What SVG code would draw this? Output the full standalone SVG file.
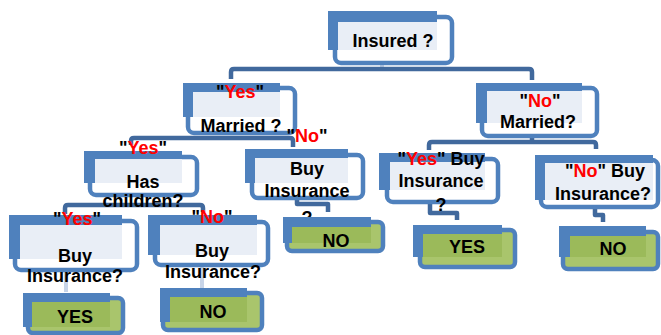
<svg xmlns="http://www.w3.org/2000/svg" width="661" height="335" viewBox="0 0 661 335">
<style>
.frame{fill:#FFFFFF;stroke:#4F81BD;stroke-width:4.5}
.back{fill:#4F81BD}
.inner{fill:#E9EEF6}
.lframe{fill:#A9C56C;stroke:#4F81BD;stroke-width:4.5}
.linner{fill:#9BBA5A}
.conn{fill:none;stroke:#41699D;stroke-width:4.5;stroke-linejoin:round;stroke-linecap:butt}
.stub{fill:none;stroke:#C7D4E8;stroke-width:4}
text{font-family:"Liberation Sans",Arial,sans-serif;font-weight:bold;font-size:18px;fill:#000;text-anchor:middle}
.r{fill:#FF0000}
</style>
<g id="connectors">
<path class="stub" d="M382,63 V68"/>
<path class="conn" d="M231,79 V72 Q231,69 234,69 H529 Q532,69 532,72 V80"/>
<path class="conn" d="M131,145 V141 Q131,138 134,138 H290 Q293,138 293,141 V147"/>
<path class="conn" d="M532,136 V142"/>
<path class="conn" d="M429,150 V145 Q429,142 432,142 H593 Q596,142 596,145 V149"/>
<path class="conn" d="M65,214 V208 Q65,205 68,205 H200 Q203,205 203,208 V212"/>
<path class="conn" d="M297,198 V204 H328 V212"/>
<path class="conn" d="M430,202 V213 H457 V220"/>
<path class="conn" d="M595,207 V215 H603 V222"/>
<path class="stub" d="M66,270 V292"/>
<path class="stub" d="M202,265 V289"/>
</g>
<g id="n-insured">
<rect class="frame" x="335" y="17" width="117" height="46" rx="6"/>
<rect class="back" x="328" y="11" width="109" height="39"/>
<rect class="inner" x="338" y="22" width="99" height="28"/>
<text x="393" y="47">Insured ?</text>
</g>
<g id="n-married-yes">
<rect class="frame" x="188" y="88" width="107" height="45" rx="6"/>
<rect class="back" x="183" y="83" width="97" height="34"/>
<rect class="inner" x="193" y="92" width="87" height="25"/>
<text x="240" y="98">"<tspan class="r">Yes</tspan>"</text>
<text x="241" y="132">Married ?</text>
</g>
<g id="n-married-no">
<rect class="frame" x="482" y="88" width="115" height="48" rx="6"/>
<rect class="back" x="476" y="83" width="106" height="40"/>
<rect class="inner" x="487" y="91" width="95" height="32"/>
<text x="540" y="107">"<tspan class="r">No</tspan>"</text>
<text x="538" y="128">Married?</text>
</g>
<g id="n-has-children">
<rect class="frame" x="90" y="157" width="107" height="38" rx="6"/>
<rect class="back" x="84" y="151" width="98" height="32"/>
<rect class="inner" x="95" y="159" width="87" height="24"/>
<text x="143" y="154">"<tspan class="r">Yes</tspan>"</text>
<text x="143" y="188">Has</text>
<text x="143" y="207">children?</text>
</g>
<g id="n-buy-1">
<rect class="frame" x="252" y="155" width="111" height="43" rx="6"/>
<rect class="back" x="245" y="149" width="103" height="34"/>
<rect class="inner" x="255" y="158" width="93" height="25"/>
<text x="307" y="175">Buy</text>
<text x="307" y="197">Insurance</text>
<text x="307" y="224">?</text>
<text x="307" y="142">"<tspan class="r">No</tspan>"</text>
</g>
<g id="n-no-1">
<rect class="lframe" x="287" y="222" width="96" height="29" rx="5"/>
<rect class="back" x="283" y="217" width="88" height="26"/>
<rect class="linner" x="292" y="227" width="79" height="16"/>
<text x="336" y="247">NO</text>
</g>
<g id="n-buy-yes">
<rect class="frame" x="387" y="159" width="111" height="43" rx="6"/>
<rect class="back" x="379" y="153" width="106" height="37"/>
<rect class="inner" x="390" y="162" width="95" height="28"/>
<text x="441" y="165">"<tspan class="r">Yes</tspan>" Buy</text>
<text x="441" y="187">Insurance</text>
<text x="441" y="211">?</text>
</g>
<g id="n-yes-1">
<rect class="lframe" x="420" y="230" width="95" height="37" rx="5"/>
<rect class="back" x="413" y="225" width="89" height="32"/>
<rect class="linner" x="423" y="234" width="79" height="23"/>
<text x="467" y="253">YES</text>
</g>
<g id="n-buy-no">
<rect class="frame" x="541" y="160" width="117" height="47" rx="6"/>
<rect class="back" x="535" y="155" width="118" height="45"/>
<rect class="inner" x="545" y="163" width="108" height="37"/>
<text x="605" y="177">"<tspan class="r">No</tspan>" Buy</text>
<text x="603" y="200">Insurance?</text>
</g>
<g id="n-no-2">
<rect class="lframe" x="563" y="232" width="95" height="37" rx="5"/>
<rect class="back" x="559" y="226" width="87" height="31"/>
<rect class="linner" x="570" y="236" width="76" height="21"/>
<text x="613" y="255">NO</text>
</g>
<g id="n-buy-children-yes">
<rect class="frame" x="15" y="221" width="122" height="49" rx="6"/>
<rect class="back" x="9" y="215" width="113" height="44"/>
<rect class="inner" x="20" y="225" width="102" height="34"/>
<text x="77" y="225">"<tspan class="r">Yes</tspan>"</text>
<text x="75" y="262">Buy</text>
<text x="75" y="282">Insurance?</text>
</g>
<g id="n-yes-2">
<rect class="lframe" x="28" y="298" width="95" height="35" rx="5"/>
<rect class="back" x="23" y="293" width="87" height="34"/>
<rect class="linner" x="32" y="302" width="78" height="25"/>
<text x="75" y="323">YES</text>
</g>
<g id="n-buy-children-no">
<rect class="frame" x="155" y="222" width="113" height="43" rx="6"/>
<rect class="back" x="148" y="215" width="109" height="40"/>
<rect class="inner" x="160" y="225" width="97" height="30"/>
<text x="212" y="223">"<tspan class="r">No</tspan>"</text>
<text x="212" y="257">Buy</text>
<text x="213" y="278">Insurance?</text>
</g>
<g id="n-no-3">
<rect class="lframe" x="163" y="293" width="99" height="37" rx="5"/>
<rect class="back" x="160" y="288" width="87" height="34"/>
<rect class="linner" x="170" y="297" width="77" height="25"/>
<text x="213" y="318">NO</text>
</g>
</svg>
